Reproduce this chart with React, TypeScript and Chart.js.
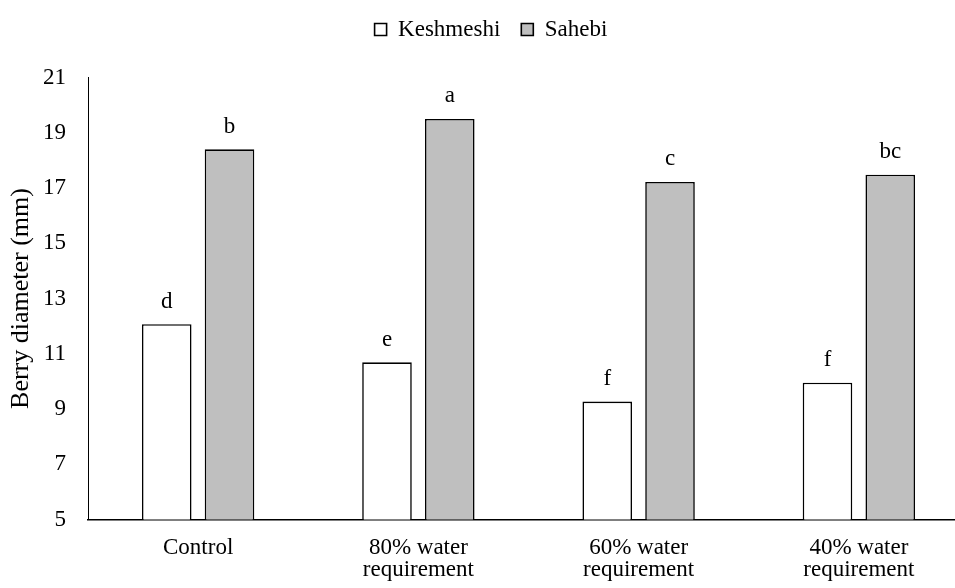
import React, { useEffect, useRef } from "react";
import { Chart, registerables } from "chart.js";

Chart.register(...registerables);

const categories: (string | string[])[] = [
  "Control",
  ["80% water", "requirement"],
  ["60% water", "requirement"],
  ["40% water", "requirement"],
];
const seriesNames = ["Keshmeshi", "Sahebi"];
const keshmeshi = [12.07, 10.69, 9.27, 9.95];
const sahebi = [18.4, 19.5, 17.22, 17.48];
const keshmeshiLetters = ["d", "e", "f", "f"];
const sahebiLetters = ["b", "a", "c", "bc"];
const yMin = 5;
const yMax = 21;
const yStep = 2;
const yTitle = "Berry diameter (mm)";

const FONT = "'Liberation Serif', 'Times New Roman', serif";

const letterPlugin = {
  id: "letters",
  afterDatasetsDraw(chart: any) {
    const ctx = chart.ctx;
    ctx.save();
    ctx.font = `23px ${FONT}`;
    ctx.fillStyle = "#000";
    ctx.textAlign = "center";
    ctx.textBaseline = "alphabetic";
    [keshmeshiLetters, sahebiLetters].forEach((letters, di) => {
      const meta = chart.getDatasetMeta(di);
      meta.data.forEach((bar: any, i: number) => {
        ctx.fillText(letters[i], bar.x, bar.y - 16.5);
      });
    });
    ctx.restore();
  },
};

export default function App() {
  const ref = useRef<HTMLCanvasElement>(null);
  useEffect(() => {
    if (!ref.current) return;
    Chart.defaults.font.family = FONT;
    const chart = new Chart(ref.current, {
      type: "bar",
      data: {
        labels: categories as any,
        datasets: [
          {
            label: seriesNames[0],
            data: keshmeshi,
            backgroundColor: "#FFFFFF",
            borderColor: "#000000",
            borderWidth: 1.6,
            borderSkipped: false,
            categoryPercentage: 0.57,
            barPercentage: 0.79,
          },
          {
            label: seriesNames[1],
            data: sahebi,
            backgroundColor: "#BFBFBF",
            borderColor: "#000000",
            borderWidth: 1.6,
            borderSkipped: false,
            categoryPercentage: 0.57,
            barPercentage: 0.79,
          },
        ],
      },
      options: {
        responsive: false,
        animation: false,
        devicePixelRatio: 1,
        layout: { padding: { left: 13, right: 11, top: -3, bottom: 0 } },
        plugins: {
          legend: {
            display: true,
            position: "top",
            labels: {
              boxWidth: 12,
              boxHeight: 12,
              padding: 21,
              color: "#000",
              font: { size: 23, family: FONT },
            },
          },
          subtitle: {
            display: true,
            text: "",
            position: "top",
            weight: 500,
            font: { size: 1, lineHeight: 1 },
            padding: { top: 25.5, bottom: 0 },
          },
          tooltip: { enabled: false },
        },
        scales: {
          x: {
            grid: { display: false, drawTicks: false },
            border: { display: true, color: "#000", width: 1.5 },
            ticks: {
              color: "#000",
              padding: 18,
              font: { size: 23, family: FONT, lineHeight: 0.94 },
              maxRotation: 0,
              autoSkip: false,
            },
            afterFit(scale: any) {
              scale.height = 68.5;
            },
          },
          y: {
            min: yMin,
            max: yMax,
            grid: { display: false, drawTicks: false },
            border: { display: true, color: "#000", width: 1 },
            ticks: {
              stepSize: yStep,
              color: "#000",
              padding: 22,
              font: { size: 23, family: FONT },
            },
            title: {
              display: true,
              text: yTitle,
              color: "#000",
              font: { size: 26, family: FONT, lineHeight: 0.5 },
              padding: { top: 2, bottom: 0 },
            },
            afterFit(scale: any) {
              scale.width = 75;
            },
          },
        },
      },
      plugins: [letterPlugin],
    });
    return () => chart.destroy();
  }, []);

  return (
    <div
      style={{
        position: "fixed",
        left: 0,
        top: 0,
        width: 955,
        height: 588,
        overflow: "hidden",
        background: "#fff",
      }}
    >
      <canvas ref={ref} width={980} height={588} style={{ display: "block" }} />
    </div>
  );
}
